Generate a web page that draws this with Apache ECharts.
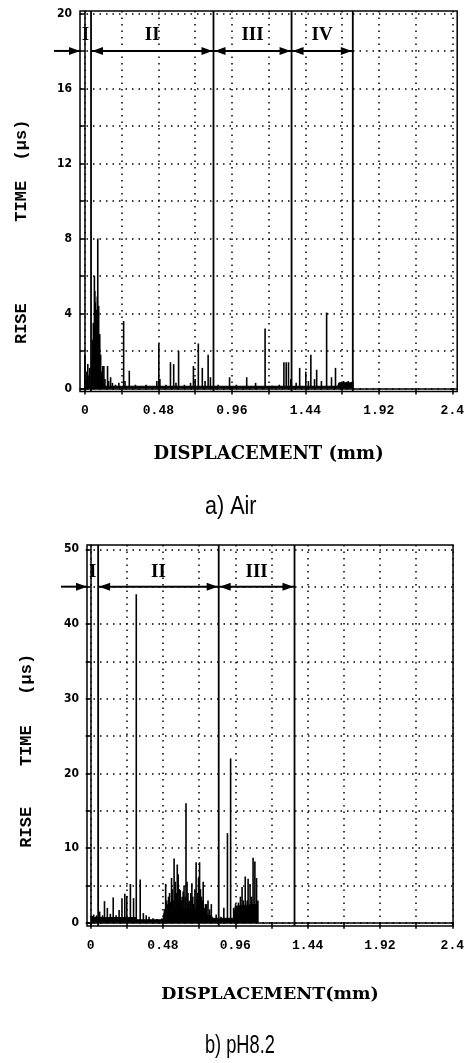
<!DOCTYPE html>
<html>
<head>
<meta charset="utf-8">
<script src="https://cdn.jsdelivr.net/npm/echarts@6/dist/echarts.min.js"></script>
<style>
  html, body { margin: 0; padding: 0; background: #fff; }
  #chart { width: 467px; height: 1063px; }
</style>
</head>
<body>
<div id="chart"></div>
<script>
// Shared displacement axis (mm)
const xTickValues = [0, 0.24, 0.48, 0.72, 0.96, 1.2, 1.44, 1.68, 1.92, 2.16, 2.4];
const xLabelValues = [0, 0.48, 0.96, 1.44, 1.92, 2.4];

// a) Air — rise time (µs) of each event vs displacement (mm)
const airYTicks = [0, 2, 4, 6, 8, 10, 12, 14, 16, 18, 20];
const airYLabels = [0, 4, 8, 12, 16, 20];
const airX = [0.000, 0.006, 0.013, 0.019, 0.026, 0.032, 0.045, 0.050, 0.055, 0.058,
              0.062, 0.065, 0.068, 0.071, 0.074, 0.077, 0.081, 0.084, 0.087, 0.090,
              0.094, 0.097, 0.103, 0.110, 0.116, 0.124, 0.131, 0.148, 0.155, 0.168,
              0.180, 0.200, 0.222, 0.253, 0.262, 0.290, 0.330, 0.400, 0.470, 0.483,
              0.490, 0.530, 0.559, 0.580, 0.595, 0.612, 0.650, 0.690, 0.709, 0.720,
              0.741, 0.767, 0.785, 0.805, 0.820, 0.870, 0.945, 0.990, 1.057, 1.115,
              1.177, 1.224, 1.270, 1.300, 1.315, 1.330, 1.345, 1.380, 1.403, 1.443,
              1.460, 1.476, 1.500, 1.514, 1.545, 1.579, 1.611, 1.637, 1.660, 1.675,
              1.690, 1.700, 1.710, 1.720, 1.730, 1.740, 1.750];
const airY = [1.8, 0.5, 0.9, 1.3, 0.7, 1.1, 1.6, 2.6, 3.5, 2.2,
              6.0, 5.2, 4.6, 3.0, 4.2, 3.3, 4.9, 8.0, 3.6, 4.4,
              2.4, 2.9, 1.8, 0.9, 1.2, 1.2, 0.5, 1.2, 0.4, 0.6,
              0.3, 0.2, 0.3, 3.6, 0.4, 0.95, 0.2, 0.2, 0.4, 2.4,
              0.5, 0.2, 1.4, 1.3, 0.3, 2.0, 0.2, 0.3, 1.2, 0.5,
              2.4, 1.1, 0.4, 1.8, 0.6, 0.2, 0.6, 0.2, 0.6, 0.3,
              3.2, 0.15, 0.2, 1.4, 1.4, 1.4, 0.5, 0.3, 1.1, 0.9,
              0.4, 1.8, 0.5, 1.0, 0.4, 4.05, 0.6, 1.1, 0.3, 0.35,
              0.4, 0.3, 0.35, 0.4, 0.3, 0.35, 0.4];
// low-level background hits along the base
const airFloorX = [0, 0.12, 0.13, 1.65, 1.66, 1.75];
const airFloorY = [0.25, 0.25, 0.12, 0.12, 0.3, 0.3];
const airZoneEnds = [0.04, 0.84, 1.35, 1.75];
const airZoneNames = ['I', 'II', 'III', 'IV'];

// b) pH 8.2
const phYTicks = [0, 5, 10, 15, 20, 25, 30, 35, 40, 45, 50];
const phYLabels = [0, 10, 20, 30, 40, 50];
const phX = [0.010, 0.020, 0.030, 0.040, 0.060, 0.079, 0.092, 0.111, 0.131, 0.150,
             0.169, 0.189, 0.208, 0.227, 0.240, 0.264, 0.285, 0.303, 0.329, 0.350,
             0.369, 0.388, 0.414, 0.440, 0.472, 0.498, 0.505, 0.511, 0.517, 0.524,
             0.530, 0.537, 0.543, 0.548, 0.554, 0.562, 0.568, 0.575, 0.581, 0.588,
             0.595, 0.601, 0.607, 0.614, 0.620, 0.627, 0.633, 0.640, 0.646, 0.652,
             0.659, 0.665, 0.672, 0.678, 0.685, 0.692, 0.700, 0.705, 0.710, 0.716,
             0.723, 0.729, 0.736, 0.742, 0.747, 0.755, 0.762, 0.770, 0.779, 0.790,
             0.801, 0.833, 0.865, 0.884, 0.908, 0.929, 0.949, 0.962, 0.981, 0.994,
             1.005, 1.013, 1.026, 1.039, 1.045, 1.058, 1.068, 1.078, 1.090, 1.101,
             1.110];
const phY = [0.9, 1.1, 0.8, 1.0, 1.5, 1.0, 2.9, 2.0, 1.2, 3.4,
             1.0, 1.7, 3.3, 3.9, 3.6, 5.2, 3.3, 44, 5.8, 1.3,
             1.0, 0.8, 0.6, 0.5, 0.6, 5.2, 3.0, 2.5, 3.5, 4.0,
             2.8, 6.0, 4.5, 3.0, 8.6, 5.5, 4.0, 7.8, 6.5, 4.5,
             4.4, 3.0, 3.5, 4.2, 5.0, 3.5, 16, 5.5, 4.0, 2.8,
             3.0, 4.0, 5.3, 3.5, 2.5, 4.5, 8.1, 3.2, 4.0, 6.0,
             8.1, 4.5, 3.5, 3.0, 5.5, 2.0, 2.5, 2.5, 3.0, 1.8,
             2.5, 1.1, 0.8, 2.0, 12, 22, 2.0, 2.5, 2.7, 3.5,
             4.8, 3.0, 6.2, 3.0, 5.9, 5.2, 3.5, 8.7, 8.2, 6.0,
             3.0];
const phFloorX = [0, 0.30, 0.31, 0.48, 0.49, 0.74, 0.75, 0.80, 0.81, 0.95, 0.96, 1.11];
const phFloorY = [0.7, 0.7, 0.4, 0.4, 1.8, 1.8, 1.0, 1.0, 0.6, 0.6, 2.2, 2.5];
const phZoneEnds = [0.05, 0.85, 1.353];
const phZoneNames = ['I', 'II', 'III'];

const zip = (xs, ys) => xs.map((x, i) => [x, ys[i]]);

const tickFont = "'Liberation Sans Narrow', 'DejaVu Sans Condensed', 'Liberation Sans', sans-serif";
const monoFont = "'Liberation Mono', 'DejaVu Sans Mono', monospace";
const nameFont = "'DejaVu Serif', 'Liberation Serif', serif";

function xAxisFor(gridIndex, min, max, name, nameGap, nameSize) {
  return {
    type: 'value', gridIndex, min, max,
    name, nameLocation: 'middle', nameGap,
    nameTextStyle: { fontFamily: nameFont, fontWeight: 'bold', fontSize: nameSize, color: '#000' },
    axisLine: { lineStyle: { color: '#000', width: 1.5 } },
    axisTick: { customValues: xTickValues, length: 6, lineStyle: { color: '#000', width: 1.5 } },
    axisLabel: { customValues: xLabelValues, margin: 13, color: '#000',
      fontFamily: monoFont, fontWeight: 'bold', fontSize: 13,
      formatter: v => String(v) },
    splitLine: { show: true, lineStyle: { color: '#000', width: 1.5, type: [1.5, 5] } }
  };
}

function yAxisFor(gridIndex, min, max, ticks, labels, name, nameGap) {
  return {
    type: 'value', gridIndex, min, max,
    name, nameLocation: 'middle', nameGap,
    nameTextStyle: { fontFamily: monoFont, fontSize: 17, fontWeight: 'bold', color: '#000' },
    axisLine: { lineStyle: { color: '#000', width: 1.5 } },
    axisTick: { customValues: ticks, length: 5, lineStyle: { color: '#000', width: 1.5 } },
    axisLabel: { customValues: labels, margin: 8, color: '#000',
      fontFamily: tickFont, fontSize: 12, fontWeight: 'bold' },
    splitLine: { show: true, lineStyle: { color: '#000', width: 1.5, type: [1.5, 5] } }
  };
}

// Zone boundaries, dimension arrows and zone numerals
function zoneSeries(axisIndex, ends, names, xMin, yMin, yMax, arrowY, nameY) {
  const data = names.map((n, i) => [i === 0 ? xMin : ends[i - 1], ends[i], i]);
  return {
    type: 'custom', xAxisIndex: axisIndex, yAxisIndex: axisIndex,
    clip: false, silent: true, z: 10,
    data,
    renderItem(params, api) {
      const x0 = api.value(0), x1 = api.value(1), idx = api.value(2);
      const top = api.coord([x1, yMax]), bot = api.coord([x1, yMin]);
      const a0 = api.coord([x0, arrowY]), a1 = api.coord([x1, arrowY]);
      const lab = api.coord([(x0 + x1) / 2, nameY]);
      const ay = a0[1];
      const head = (tx, dir) => ({
        type: 'polygon',
        shape: { points: [[tx, ay], [tx - dir * 11, ay - 4], [tx - dir * 11, ay + 4]] },
        style: { fill: '#000' }
      });
      const children = [{
        type: 'line',
        shape: { x1: top[0], y1: top[1], x2: bot[0], y2: bot[1] },
        style: { stroke: '#000', lineWidth: 1.8 }
      }];
      if (idx === 0) {
        children.push({
          type: 'line', shape: { x1: a0[0] - 26, y1: ay, x2: a0[0], y2: ay },
          style: { stroke: '#000', lineWidth: 2 }
        });
        children.push(head(a0[0], 1));
      } else {
        children.push({
          type: 'line', shape: { x1: a0[0], y1: ay, x2: a1[0], y2: ay },
          style: { stroke: '#000', lineWidth: 2 }
        });
        children.push(head(a0[0] + 1, -1));
        children.push(head(a1[0] - 1, 1));
      }
      children.push({
        type: 'text',
        style: { text: names[idx], x: lab[0], y: lab[1], align: 'center', verticalAlign: 'middle',
          font: "bold 19px 'Liberation Serif', serif", fill: '#000' }
      });
      return { type: 'group', children };
    }
  };
}

function spikeSeries(axisIndex, xs, ys) {
  return {
    type: 'bar', xAxisIndex: axisIndex, yAxisIndex: axisIndex,
    data: zip(xs, ys), barWidth: 1.6, itemStyle: { color: '#000' }, silent: true, z: 4
  };
}

function floorSeries(axisIndex, xs, ys) {
  return {
    type: 'line', xAxisIndex: axisIndex, yAxisIndex: axisIndex,
    data: zip(xs, ys), showSymbol: false, silent: true, z: 3,
    lineStyle: { color: '#000', width: 1 }, areaStyle: { color: '#000', opacity: 1 }
  };
}

const captionFont = "26px 'Liberation Sans', sans-serif";

const chart = echarts.init(document.getElementById('chart'), null, { renderer: 'canvas' });
chart.setOption({
  backgroundColor: '#fff',
  animation: false,
  graphic: [
    { type: 'text', x: 205, y: 494, scaleX: 0.83, silent: true,
      style: { text: 'a) Air', font: captionFont, fill: '#000' } },
    { type: 'text', x: 205, y: 1033, scaleX: 0.7, silent: true,
      style: { text: 'b) pH8.2', font: captionFont, fill: '#000' } }
  ],
  grid: [
    { left: 80, top: 11, width: 382.5, height: 380.5, show: true, borderColor: '#000', borderWidth: 1.5 },
    { left: 87, top: 545, width: 377, height: 381, show: true, borderColor: '#000', borderWidth: 1.5 }
  ],
  xAxis: [
    xAxisFor(0, -0.032, 2.432, 'DISPLACEMENT (mm)', 54, 18),
    xAxisFor(1, -0.024, 2.405, 'DISPLACEMENT(mm)', 59, 17.5)
  ],
  yAxis: [
    yAxisFor(0, -0.16, 20.13, airYTicks, airYLabels, 'RISE        TIME  (\u03bcs)      ', 50),
    yAxisFor(1, -0.43, 50.58, phYTicks, phYLabels, 'RISE    TIME   (\u03bcs)   ', 52)
  ],
  series: [
    floorSeries(0, airFloorX, airFloorY),
    spikeSeries(0, airX, airY),
    zoneSeries(0, airZoneEnds, airZoneNames, -0.032, -0.16, 20.13, 18, 18.85),
    floorSeries(1, phFloorX, phFloorY),
    spikeSeries(1, phX, phY),
    zoneSeries(1, phZoneEnds, phZoneNames, -0.024, -0.43, 50.58, 45, 47)
  ]
});
</script>
</body>
</html>
